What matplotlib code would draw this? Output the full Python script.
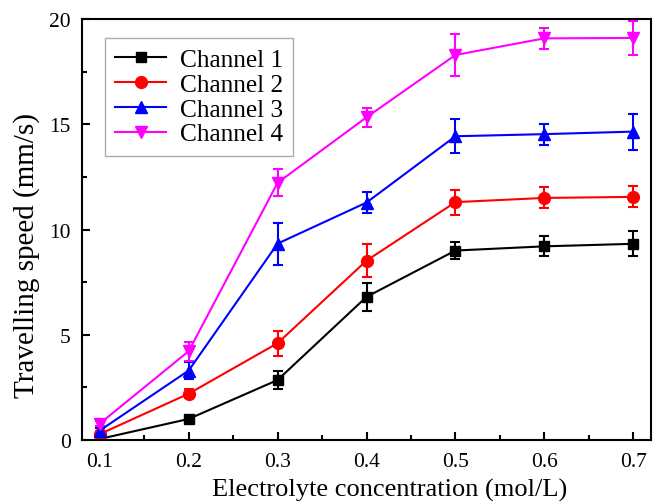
import matplotlib
matplotlib.use("Agg")
import matplotlib.pyplot as plt
from matplotlib.ticker import MultipleLocator
from matplotlib.lines import Line2D

plt.rcParams['font.family'] = ['Liberation Serif', 'DejaVu Serif']

conc = [0.1, 0.2, 0.3, 0.4, 0.5, 0.6, 0.7]
labels = ["Channel 1", "Channel 2", "Channel 3", "Channel 4"]
ch1 = [0.05, 1.0, 2.85, 6.8, 9.0, 9.2, 9.32]
ch1_err = [0.05, 0.1, 0.45, 0.65, 0.4, 0.47, 0.6]
ch2 = [0.28, 2.2, 4.6, 8.52, 11.3, 11.5, 11.55]
ch2_err = [0.1, 0.22, 0.6, 0.78, 0.6, 0.5, 0.5]
ch3 = [0.45, 3.3, 9.33, 11.28, 14.43, 14.53, 14.65]
ch3_err = [0.1, 0.4, 1.0, 0.5, 0.8, 0.5, 0.85]
ch4 = [0.78, 4.22, 12.22, 15.33, 18.29, 19.08, 19.1]
ch4_err = [0.1, 0.45, 0.65, 0.45, 1.0, 0.5, 0.8]

series = [ch1, ch2, ch3, ch4]
errs = [ch1_err, ch2_err, ch3_err, ch4_err]
colors = ['#000000', '#FF0000', '#0000FF', '#FF00FF']
markers = ['s', 'o', '^', 'v']
msizes = [7.5, 8.5, 8.5, 8.5]

W, H = 653, 502
fig = plt.figure(figsize=(W / 100, H / 100), dpi=100)
ax = fig.add_axes([82 / W, 1 - 441 / H, (651 - 82) / W, (441 - 20) / H])

handles = []
for y, e, c, m, ms, lab in zip(series, errs, colors, markers, msizes, labels):
    ax.errorbar(conc, y, yerr=e, color=c, marker=m, markersize=ms, lw=1.5,
                capsize=3.5, elinewidth=1.5, capthick=1.5)
    handles.append(Line2D([], [], color=c, marker=m, markersize=ms, lw=1.5, label=lab))

ax.set_xlim(0.08, 0.72)
ax.set_ylim(0, 20)
ax.xaxis.set_major_locator(MultipleLocator(0.1))
ax.xaxis.set_minor_locator(MultipleLocator(0.05))
ax.yaxis.set_major_locator(MultipleLocator(5))
ax.yaxis.set_minor_locator(MultipleLocator(2.5))
ax.tick_params(which='both', direction='in', top=False, right=False, labelsize=15.5, width=1.5)
ax.tick_params(which='major', length=6)
ax.tick_params(which='minor', length=3.5)
ax.tick_params(axis='x', pad=9)
ax.tick_params(axis='y', pad=8)
for s in ax.spines.values():
    s.set_linewidth(1.5)

fig.text(390 / W, 1 - 497 / H, "Electrolyte concentration (mol/L)", fontsize=19,
         ha='center', va='baseline')
fig.text(27 / W, 1 - 255 / H, "Travelling speed (mm/s)", fontsize=21,
         ha='center', va='center', rotation=90)

leg = ax.legend(handles=handles, loc='upper left',
                bbox_to_anchor=((105 - 82) / 569, (441 - 39) / 421), borderaxespad=0,
                fontsize=18.3, frameon=True, fancybox=False, edgecolor='#999999',
                handlelength=2.0, borderpad=0.4, labelspacing=0.08, handletextpad=0.55)
leg.get_frame().set_linewidth(1.0)

fig.savefig("out.png", dpi=100)
